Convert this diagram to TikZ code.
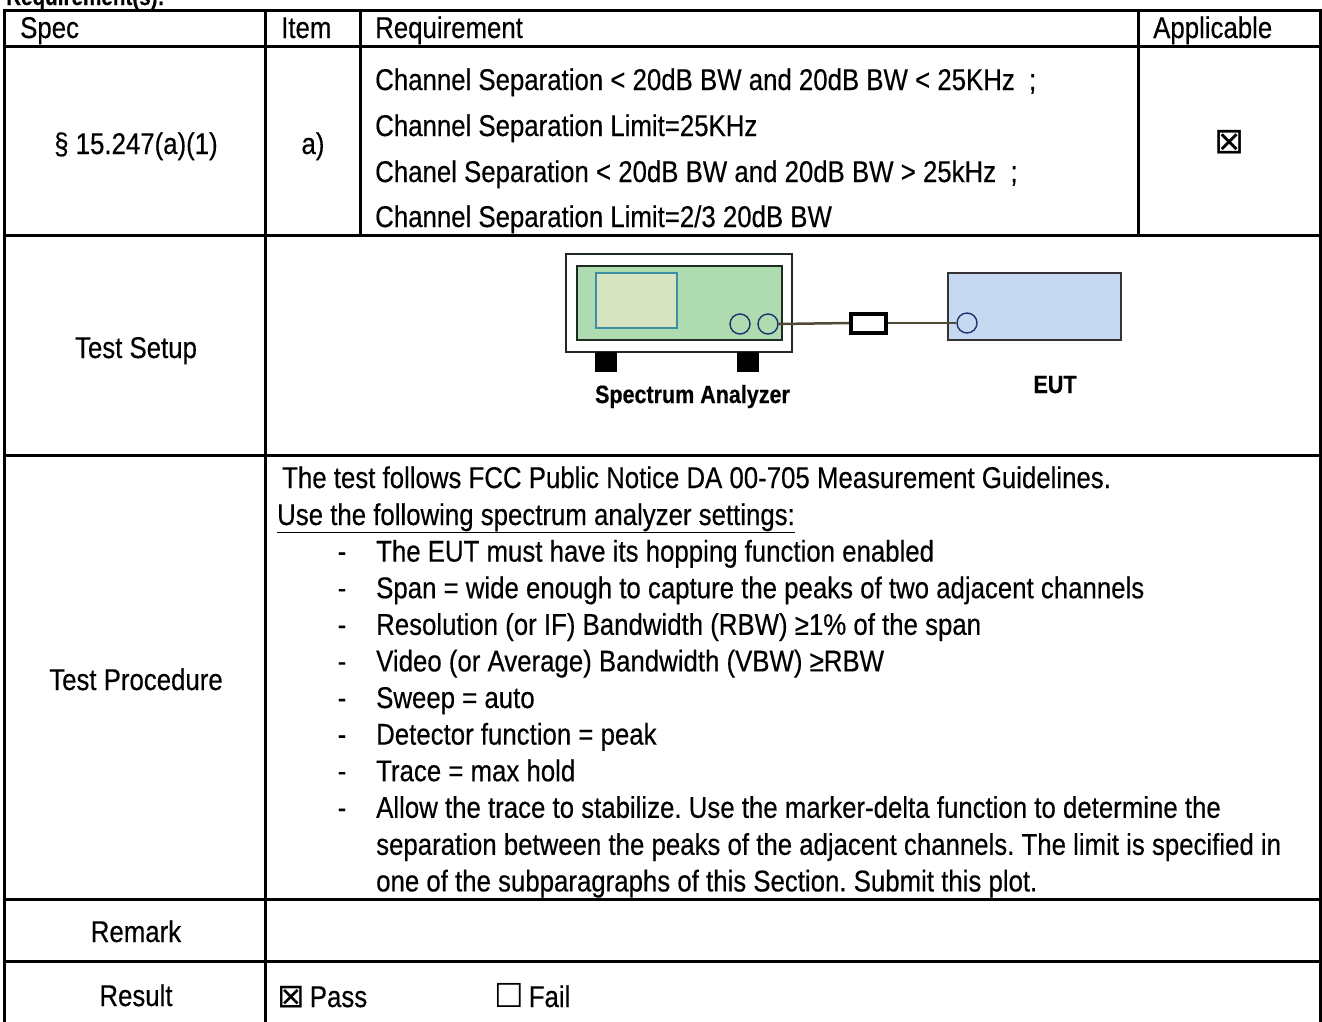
\documentclass[tikz,border=0pt]{standalone}
\usepackage{fontspec}
\setmainfont{Liberation Sans}[FakeStretch=0.86, FakeBold=0.4]
\newfontfamily\symfont{DejaVu Sans}
\usetikzlibrary{positioning}
\definecolor{panelgreen}{HTML}{AEDBB0}
\definecolor{screenfill}{HTML}{D8E4C0}
\definecolor{screenline}{HTML}{3B8EA5}
\definecolor{eutfill}{HTML}{C6D9F0}
\definecolor{knobline}{HTML}{1F2F6F}
\definecolor{cablecol}{HTML}{4F4A35}
\definecolor{unitline}{HTML}{1E2A22}
\frenchspacing

\begin{document}
\begin{tikzpicture}[x=1pt, y=-1pt, line join=miter,
  grid/.style={line width=3pt},
  txt/.style={inner sep=0pt, anchor=base west, font=\fontsize{30}{36}\selectfont},
  ctr/.style={inner sep=0pt, anchor=base, font=\fontsize{30}{36}\selectfont},
  unit/.style={draw=unitline, line width=1.5pt, inner sep=0pt},
  knob/.style={circle, draw=knobline, line width=1.4pt, inner sep=0pt, minimum size=20pt},
  foot/.style={fill=black, inner sep=0pt, minimum width=22pt, minimum height=20pt},
  label/.style={inner sep=0pt, anchor=base, font=\bfseries\fontsize{25}{28}\selectfont},
  cable/.style={draw=cablecol, line width=2.5pt}]
  \useasboundingbox (0,0) rectangle (1322,1021);
  % title, cut by the page edge
  \node[inner sep=0pt, anchor=base west, font=\bfseries\fontsize{24}{28}\selectfont] (title) at (6,5) {Requirement(s):};
  % table rules
  \draw[grid] (4.5,10) -- (1320.5,10);
  \draw[grid] (4.5,46) -- (1320.5,46);
  \draw[grid] (4.5,235) -- (1320.5,235);
  \draw[grid] (4.5,455) -- (1320.5,455);
  \draw[grid] (4.5,899) -- (1320.5,899);
  \draw[grid] (4.5,961) -- (1320.5,961);
  \draw[grid] (4.5,8.5) -- (4.5,1030);
  \draw[grid] (1320.5,8.5) -- (1320.5,1030);
  \draw[grid] (265,10) -- (265,1030);
  \draw[grid] (360,10) -- (360,235);
  \draw[grid] (1138,10) -- (1138,235);
  % header
  \node[txt] (hspec) at (20,38) {Spec};
  \node[txt] (hitem) at (281,38) {Item};
  \node[txt] (hreq) at (375,38) {Requirement};
  \node[txt] (happ) at (1153,38) {Applicable};
  % requirement row
  \node[ctr] (spec) at (136,154) {§ 15.247(a)(1)};
  \node[ctr] (item) at (313,154) {a)};
  \node[txt] (req1) at (375,90) {Channel Separation < 20dB BW and 20dB BW < 25KHz\ \ ;};
  \node[txt] (req2) at (375,136) {Channel Separation Limit=25KHz};
  \node[txt] (req3) at (375,182) {Chanel Separation < 20dB BW and 20dB BW > 25kHz\ \ ;};
  \node[txt] (req4) at (375,227) {Channel Separation Limit=2/3 20dB BW};
  \node[inner sep=0pt, font=\symfont\fontsize{36}{40}\selectfont] (appbox) at (1230,142) {⊠};
  % test setup
  \node[ctr] (setup) at (136,358) {Test Setup};
  \node[unit, fill=white, minimum width=226pt, minimum height=98pt] (sa) at (679,303) {};
  \node[unit, fill=panelgreen, minimum width=205pt, minimum height=74pt] (panel) at (679.5,303) {};
  \node[draw=screenline, line width=1.5pt, fill=screenfill, inner sep=0pt, minimum width=81pt, minimum height=55pt] (screen) at (636.5,300.5) {};
  \node[knob] (knobA) at (740,324) {};
  \node[knob] (knobB) at (768,324) {};
  \node[foot] (footA) at (606,362) {};
  \node[foot] (footB) at (748,362) {};
  \node[draw=black, line width=4pt, fill=white, inner sep=0pt, minimum width=35pt, minimum height=19pt] (atten) at (868.5,323) {};
  \node[unit, draw=black!80, fill=eutfill, minimum width=173pt, minimum height=67pt] (eut) at (1034.5,306.5) {};
  \node[knob] (port) at (967,323) {};
  \draw[cable] (knobB.east) -- (atten.west);
  \draw[cable] (atten.east) -- (port.west);
  \node[label] (salabel) at (692.5,403) {Spectrum Analyzer};
  \node[label] (eutlabel) at (1055,393) {EUT};
  % test procedure
  \node[ctr] (proc) at (136,690) {Test Procedure};
  \node[txt] (p1) at (282,488) {The test follows FCC Public Notice DA 00-705 Measurement Guidelines.};
  \node[txt] (p2) at (277,525) {\underline{Use the following spectrum analyzer settings:}};
  \foreach \s [count=\i] in {{The EUT must have its hopping function enabled},
      {Span = wide enough to capture the peaks of two adjacent channels},
      {Resolution (or IF) Bandwidth (RBW) ≥1\% of the span},
      {Video (or Average) Bandwidth (VBW) ≥RBW},
      {Sweep = auto},
      {Detector function = peak},
      {Trace = max hold},
      {Allow the trace to stabilize. Use the marker-delta function to determine the}}
  {
    \node[ctr] (dash\i) at (342,525+36.6*\i) {-};
    \node[txt] (item\i) at (376,525+36.6*\i) {\s};
  }
  \node[txt] (p11) at (376,854.8) {separation between the peaks of the adjacent channels. The limit is specified in};
  \node[txt] (p12) at (376,891.4) {one of the subparagraphs of this Section. Submit this plot.};
  % remark and result
  \node[ctr] (remark) at (136,942) {Remark};
  \node[ctr] (result) at (136,1006) {Result};
  \node[txt] (pass) at (277,1007) {{\symfont\fontsize{33}{36}\selectfont ⊠}\,Pass};
  \node[txt] (fail) at (494,1007) {{\symfont\fontsize{33}{36}\selectfont ☐}\,Fail};
\end{tikzpicture}
\end{document}
